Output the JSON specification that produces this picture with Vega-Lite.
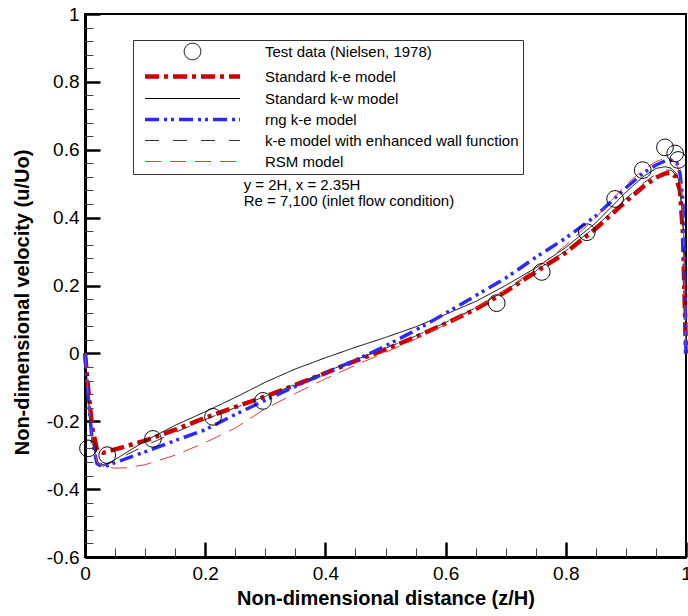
{
  "$schema": "https://vega.github.io/schema/vega-lite/v6.json",
  "width": 601,
  "height": 543,
  "autosize": {"type": "none"},
  "padding": {"left": 85, "top": 14, "right": 2, "bottom": 59},
  "background": "white",
  "config": {
    "view": {"stroke": "black", "strokeWidth": 2},
    "axis": {
      "domainColor": "black", "domainWidth": 3, "tickColor": "black",
      "labelFont": "Liberation Sans", "labelFontSize": 19, "labelColor": "black",
      "titleFont": "Liberation Sans", "titleFontSize": 20, "titleFontWeight": "bold", "titleColor": "black",
      "grid": false
    },
    "legend": {
      "orient": "none", "legendX": 48, "legendY": 26,
      "strokeColor": "#333", "fillColor": "white", "padding": 4,
      "labelFont": "Liberation Sans", "labelFontSize": 15, "labelColor": "black", "labelLimit": 400,
      "symbolSize": 100, "symbolOffset": 48, "labelOffset": 65, "rowPadding": 5,
      "symbolFillColor": "transparent", "symbolLimit": 0
    }
  },
  "datasets": {
    "curves": [
      {"series": "Standard k-e model", "x": 0, "y": 0},
      {"series": "Standard k-e model", "x": 0.005, "y": -0.1},
      {"series": "Standard k-e model", "x": 0.012, "y": -0.22},
      {"series": "Standard k-e model", "x": 0.02, "y": -0.285},
      {"series": "Standard k-e model", "x": 0.03, "y": -0.293},
      {"series": "Standard k-e model", "x": 0.05, "y": -0.283},
      {"series": "Standard k-e model", "x": 0.1, "y": -0.257},
      {"series": "Standard k-e model", "x": 0.15, "y": -0.225},
      {"series": "Standard k-e model", "x": 0.2, "y": -0.19},
      {"series": "Standard k-e model", "x": 0.25, "y": -0.158},
      {"series": "Standard k-e model", "x": 0.3, "y": -0.127},
      {"series": "Standard k-e model", "x": 0.35, "y": -0.093},
      {"series": "Standard k-e model", "x": 0.4, "y": -0.058},
      {"series": "Standard k-e model", "x": 0.45, "y": -0.022},
      {"series": "Standard k-e model", "x": 0.5, "y": 0.012},
      {"series": "Standard k-e model", "x": 0.55, "y": 0.048},
      {"series": "Standard k-e model", "x": 0.6, "y": 0.088},
      {"series": "Standard k-e model", "x": 0.65, "y": 0.13},
      {"series": "Standard k-e model", "x": 0.7, "y": 0.182},
      {"series": "Standard k-e model", "x": 0.75, "y": 0.24},
      {"series": "Standard k-e model", "x": 0.8, "y": 0.297},
      {"series": "Standard k-e model", "x": 0.85, "y": 0.368},
      {"series": "Standard k-e model", "x": 0.9, "y": 0.448},
      {"series": "Standard k-e model", "x": 0.93, "y": 0.493},
      {"series": "Standard k-e model", "x": 0.95, "y": 0.518},
      {"series": "Standard k-e model", "x": 0.965, "y": 0.53},
      {"series": "Standard k-e model", "x": 0.975, "y": 0.532},
      {"series": "Standard k-e model", "x": 0.983, "y": 0.52},
      {"series": "Standard k-e model", "x": 0.99, "y": 0.48},
      {"series": "Standard k-e model", "x": 0.995, "y": 0.35},
      {"series": "Standard k-e model", "x": 1, "y": 0},

      {"series": "Standard k-w model", "x": 0, "y": 0},
      {"series": "Standard k-w model", "x": 0.005, "y": -0.12},
      {"series": "Standard k-w model", "x": 0.012, "y": -0.26},
      {"series": "Standard k-w model", "x": 0.02, "y": -0.318},
      {"series": "Standard k-w model", "x": 0.03, "y": -0.333},
      {"series": "Standard k-w model", "x": 0.05, "y": -0.313},
      {"series": "Standard k-w model", "x": 0.1, "y": -0.258},
      {"series": "Standard k-w model", "x": 0.15, "y": -0.212},
      {"series": "Standard k-w model", "x": 0.2, "y": -0.172},
      {"series": "Standard k-w model", "x": 0.25, "y": -0.13},
      {"series": "Standard k-w model", "x": 0.3, "y": -0.085},
      {"series": "Standard k-w model", "x": 0.35, "y": -0.046},
      {"series": "Standard k-w model", "x": 0.4, "y": -0.013},
      {"series": "Standard k-w model", "x": 0.45, "y": 0.018},
      {"series": "Standard k-w model", "x": 0.5, "y": 0.047},
      {"series": "Standard k-w model", "x": 0.55, "y": 0.078},
      {"series": "Standard k-w model", "x": 0.6, "y": 0.115},
      {"series": "Standard k-w model", "x": 0.65, "y": 0.153},
      {"series": "Standard k-w model", "x": 0.7, "y": 0.2},
      {"series": "Standard k-w model", "x": 0.75, "y": 0.252},
      {"series": "Standard k-w model", "x": 0.8, "y": 0.312},
      {"series": "Standard k-w model", "x": 0.85, "y": 0.385},
      {"series": "Standard k-w model", "x": 0.9, "y": 0.475},
      {"series": "Standard k-w model", "x": 0.93, "y": 0.522},
      {"series": "Standard k-w model", "x": 0.95, "y": 0.545},
      {"series": "Standard k-w model", "x": 0.965, "y": 0.55},
      {"series": "Standard k-w model", "x": 0.975, "y": 0.546},
      {"series": "Standard k-w model", "x": 0.985, "y": 0.528},
      {"series": "Standard k-w model", "x": 0.99, "y": 0.49},
      {"series": "Standard k-w model", "x": 0.995, "y": 0.39},
      {"series": "Standard k-w model", "x": 0.998, "y": 0.29},
      {"series": "Standard k-w model", "x": 1, "y": 0},

      {"series": "rng k-e model", "x": 0, "y": 0},
      {"series": "rng k-e model", "x": 0.005, "y": -0.12},
      {"series": "rng k-e model", "x": 0.012, "y": -0.26},
      {"series": "rng k-e model", "x": 0.02, "y": -0.325},
      {"series": "rng k-e model", "x": 0.03, "y": -0.335},
      {"series": "rng k-e model", "x": 0.05, "y": -0.322},
      {"series": "rng k-e model", "x": 0.1, "y": -0.29},
      {"series": "rng k-e model", "x": 0.15, "y": -0.257},
      {"series": "rng k-e model", "x": 0.2, "y": -0.225},
      {"series": "rng k-e model", "x": 0.25, "y": -0.18},
      {"series": "rng k-e model", "x": 0.3, "y": -0.138},
      {"series": "rng k-e model", "x": 0.35, "y": -0.097},
      {"series": "rng k-e model", "x": 0.4, "y": -0.058},
      {"series": "rng k-e model", "x": 0.45, "y": -0.02},
      {"series": "rng k-e model", "x": 0.5, "y": 0.022},
      {"series": "rng k-e model", "x": 0.55, "y": 0.068},
      {"series": "rng k-e model", "x": 0.6, "y": 0.118},
      {"series": "rng k-e model", "x": 0.65, "y": 0.17},
      {"series": "rng k-e model", "x": 0.7, "y": 0.222},
      {"series": "rng k-e model", "x": 0.75, "y": 0.283},
      {"series": "rng k-e model", "x": 0.8, "y": 0.34},
      {"series": "rng k-e model", "x": 0.85, "y": 0.405},
      {"series": "rng k-e model", "x": 0.9, "y": 0.488},
      {"series": "rng k-e model", "x": 0.93, "y": 0.533},
      {"series": "rng k-e model", "x": 0.95, "y": 0.555},
      {"series": "rng k-e model", "x": 0.965, "y": 0.567},
      {"series": "rng k-e model", "x": 0.975, "y": 0.57},
      {"series": "rng k-e model", "x": 0.985, "y": 0.56},
      {"series": "rng k-e model", "x": 0.99, "y": 0.53},
      {"series": "rng k-e model", "x": 0.995, "y": 0.45},
      {"series": "rng k-e model", "x": 1, "y": 0},

      {"series": "k-e model with enhanced wall function", "x": 0, "y": 0},
      {"series": "k-e model with enhanced wall function", "x": 0.005, "y": -0.12},
      {"series": "k-e model with enhanced wall function", "x": 0.012, "y": -0.255},
      {"series": "k-e model with enhanced wall function", "x": 0.02, "y": -0.315},
      {"series": "k-e model with enhanced wall function", "x": 0.03, "y": -0.328},
      {"series": "k-e model with enhanced wall function", "x": 0.05, "y": -0.315},
      {"series": "k-e model with enhanced wall function", "x": 0.1, "y": -0.272},
      {"series": "k-e model with enhanced wall function", "x": 0.15, "y": -0.233},
      {"series": "k-e model with enhanced wall function", "x": 0.2, "y": -0.195},
      {"series": "k-e model with enhanced wall function", "x": 0.25, "y": -0.16},
      {"series": "k-e model with enhanced wall function", "x": 0.3, "y": -0.127},
      {"series": "k-e model with enhanced wall function", "x": 0.35, "y": -0.091},
      {"series": "k-e model with enhanced wall function", "x": 0.4, "y": -0.055},
      {"series": "k-e model with enhanced wall function", "x": 0.45, "y": -0.019},
      {"series": "k-e model with enhanced wall function", "x": 0.5, "y": 0.015},
      {"series": "k-e model with enhanced wall function", "x": 0.55, "y": 0.051},
      {"series": "k-e model with enhanced wall function", "x": 0.6, "y": 0.091},
      {"series": "k-e model with enhanced wall function", "x": 0.65, "y": 0.134},
      {"series": "k-e model with enhanced wall function", "x": 0.7, "y": 0.186},
      {"series": "k-e model with enhanced wall function", "x": 0.75, "y": 0.243},
      {"series": "k-e model with enhanced wall function", "x": 0.8, "y": 0.302},
      {"series": "k-e model with enhanced wall function", "x": 0.85, "y": 0.374},
      {"series": "k-e model with enhanced wall function", "x": 0.9, "y": 0.456},
      {"series": "k-e model with enhanced wall function", "x": 0.93, "y": 0.503},
      {"series": "k-e model with enhanced wall function", "x": 0.95, "y": 0.528},
      {"series": "k-e model with enhanced wall function", "x": 0.965, "y": 0.54},
      {"series": "k-e model with enhanced wall function", "x": 0.975, "y": 0.54},
      {"series": "k-e model with enhanced wall function", "x": 0.983, "y": 0.527},
      {"series": "k-e model with enhanced wall function", "x": 0.99, "y": 0.49},
      {"series": "k-e model with enhanced wall function", "x": 0.995, "y": 0.37},
      {"series": "k-e model with enhanced wall function", "x": 1, "y": 0},

      {"series": "RSM model", "x": 0, "y": 0},
      {"series": "RSM model", "x": 0.005, "y": -0.12},
      {"series": "RSM model", "x": 0.012, "y": -0.26},
      {"series": "RSM model", "x": 0.02, "y": -0.32},
      {"series": "RSM model", "x": 0.03, "y": -0.334},
      {"series": "RSM model", "x": 0.05, "y": -0.338},
      {"series": "RSM model", "x": 0.07, "y": -0.337},
      {"series": "RSM model", "x": 0.1, "y": -0.328},
      {"series": "RSM model", "x": 0.15, "y": -0.3},
      {"series": "RSM model", "x": 0.2, "y": -0.263},
      {"series": "RSM model", "x": 0.25, "y": -0.22},
      {"series": "RSM model", "x": 0.3, "y": -0.163},
      {"series": "RSM model", "x": 0.35, "y": -0.118},
      {"series": "RSM model", "x": 0.4, "y": -0.075},
      {"series": "RSM model", "x": 0.45, "y": -0.035},
      {"series": "RSM model", "x": 0.5, "y": 0.003},
      {"series": "RSM model", "x": 0.55, "y": 0.042},
      {"series": "RSM model", "x": 0.6, "y": 0.085},
      {"series": "RSM model", "x": 0.65, "y": 0.133},
      {"series": "RSM model", "x": 0.7, "y": 0.188},
      {"series": "RSM model", "x": 0.75, "y": 0.25},
      {"series": "RSM model", "x": 0.8, "y": 0.318},
      {"series": "RSM model", "x": 0.85, "y": 0.4},
      {"series": "RSM model", "x": 0.9, "y": 0.497},
      {"series": "RSM model", "x": 0.93, "y": 0.543},
      {"series": "RSM model", "x": 0.95, "y": 0.565},
      {"series": "RSM model", "x": 0.965, "y": 0.575},
      {"series": "RSM model", "x": 0.975, "y": 0.574},
      {"series": "RSM model", "x": 0.985, "y": 0.56},
      {"series": "RSM model", "x": 0.99, "y": 0.52},
      {"series": "RSM model", "x": 0.995, "y": 0.42},
      {"series": "RSM model", "x": 1, "y": 0}
    ],
    "test": [
      {"series": "Test data (Nielsen, 1978)", "x": 0.005, "y": -0.28},
      {"series": "Test data (Nielsen, 1978)", "x": 0.037, "y": -0.3},
      {"series": "Test data (Nielsen, 1978)", "x": 0.113, "y": -0.252},
      {"series": "Test data (Nielsen, 1978)", "x": 0.213, "y": -0.187},
      {"series": "Test data (Nielsen, 1978)", "x": 0.296, "y": -0.14},
      {"series": "Test data (Nielsen, 1978)", "x": 0.685, "y": 0.148},
      {"series": "Test data (Nielsen, 1978)", "x": 0.76, "y": 0.24},
      {"series": "Test data (Nielsen, 1978)", "x": 0.835, "y": 0.357},
      {"series": "Test data (Nielsen, 1978)", "x": 0.882, "y": 0.455},
      {"series": "Test data (Nielsen, 1978)", "x": 0.928, "y": 0.54},
      {"series": "Test data (Nielsen, 1978)", "x": 0.965, "y": 0.607},
      {"series": "Test data (Nielsen, 1978)", "x": 0.982, "y": 0.589},
      {"series": "Test data (Nielsen, 1978)", "x": 0.987, "y": 0.57}
    ],
    "notes": [
      {"x": 0.264, "y": 0.497, "text": "y = 2H, x = 2.35H"},
      {"x": 0.264, "y": 0.448, "text": "Re = 7,100 (inlet flow condition)"}
    ]
  },
  "resolve": {"axis": {"x": "independent", "y": "independent"}},
  "layer": [
    {
      "data": {"name": "curves"},
      "mark": {"type": "line", "strokeCap": "butt", "strokeJoin": "round"},
      "encoding": {
        "x": {"field": "x", "type": "quantitative",
          "scale": {"domain": [0, 1], "nice": false, "zero": false},
          "axis": {"orient": "bottom", "values": [0, 0.2, 0.4, 0.6, 0.8, 1], "tickSize": -15, "tickWidth": 2.5,
            "labelPadding": 22, "labelExpr": "'' + datum.value", "labelFlush": false, "labelOverlap": false,
            "title": "Non-dimensional distance (z/H)", "titlePadding": 5}},
        "y": {"field": "y", "type": "quantitative",
          "scale": {"domain": [-0.6, 1], "nice": false, "zero": false},
          "axis": {"orient": "left", "values": [-0.6, -0.4, -0.2, 0, 0.2, 0.4, 0.6, 0.8, 1], "tickSize": -15, "tickWidth": 2.5,
            "labelPadding": 21, "labelExpr": "'' + datum.value", "labelFlush": false, "labelOverlap": false,
            "title": "Non-dimensional velocity (u/Uo)", "titlePadding": 14, "titleY": 288}},
        "color": {"field": "series", "type": "nominal", "title": null,
          "scale": {"domain": ["Test data (Nielsen, 1978)", "Standard k-e model", "Standard k-w model", "rng k-e model", "k-e model with enhanced wall function", "RSM model"],
            "range": ["black", "#cc0000", "black", "#2a2aff", "#333333", "#e83a3a"]}},
        "strokeDash": {"field": "series", "type": "nominal", "title": null,
          "scale": {"domain": ["Test data (Nielsen, 1978)", "Standard k-e model", "Standard k-w model", "rng k-e model", "k-e model with enhanced wall function", "RSM model"],
            "range": [[1, 0], [14, 5, 4, 5], [1, 0], [14, 5, 3, 4, 3, 5], [14, 14], [16, 9]]}},
        "strokeWidth": {"field": "series", "type": "nominal", "title": null,
          "scale": {"type": "ordinal", "domain": ["Test data (Nielsen, 1978)", "Standard k-e model", "Standard k-w model", "rng k-e model", "k-e model with enhanced wall function", "RSM model"],
            "range": [1, 4.5, 1, 3.5, 1, 1]}}
      }
    },
    {
      "data": {"name": "test"},
      "mark": {"type": "point", "filled": false, "size": 100, "strokeWidth": 1, "opacity": 1},
      "encoding": {
        "x": {"field": "x", "type": "quantitative",
          "axis": {"orient": "bottom", "values": [0.05, 0.1, 0.15, 0.25, 0.3, 0.35, 0.45, 0.5, 0.55, 0.65, 0.7, 0.75, 0.85, 0.9, 0.95],
            "tickSize": -9, "tickWidth": 1, "tickColor": "#444", "labels": false, "domain": false, "title": null}},
        "y": {"field": "y", "type": "quantitative",
          "axis": {"orient": "left", "values": [-0.56, -0.52, -0.48, -0.44, -0.36, -0.32, -0.28, -0.24, -0.16, -0.12, -0.08, -0.04, 0.04, 0.08, 0.12, 0.16, 0.24, 0.28, 0.32, 0.36, 0.44, 0.48, 0.52, 0.56, 0.64, 0.68, 0.72, 0.76, 0.84, 0.88, 0.92, 0.96],
            "tickSize": -8, "tickWidth": 1, "tickColor": "#444", "labels": false, "domain": false, "title": null}},
        "color": {"field": "series", "type": "nominal", "title": null},
        "shape": {"field": "series", "type": "nominal", "title": null,
          "scale": {"domain": ["Test data (Nielsen, 1978)", "Standard k-e model", "Standard k-w model", "rng k-e model", "k-e model with enhanced wall function", "RSM model"],
            "range": ["M-1.66,0A1.66,1.66,0,1,0,1.66,0A1.66,1.66,0,1,0,-1.66,0Z", "M-9.5,0H9.5", "M-9.5,0H9.5", "M-9.5,0H9.5", "M-9.5,0H9.5", "M-9.5,0H9.5"]}}
      }
    },
    {
      "data": {"name": "notes"},
      "mark": {"type": "text", "align": "left", "baseline": "middle", "font": "Liberation Sans", "fontSize": 15, "color": "black"},
      "encoding": {
        "x": {"field": "x", "type": "quantitative", "axis": null},
        "y": {"field": "y", "type": "quantitative", "axis": null},
        "text": {"field": "text"}
      }
    }
  ]
}
